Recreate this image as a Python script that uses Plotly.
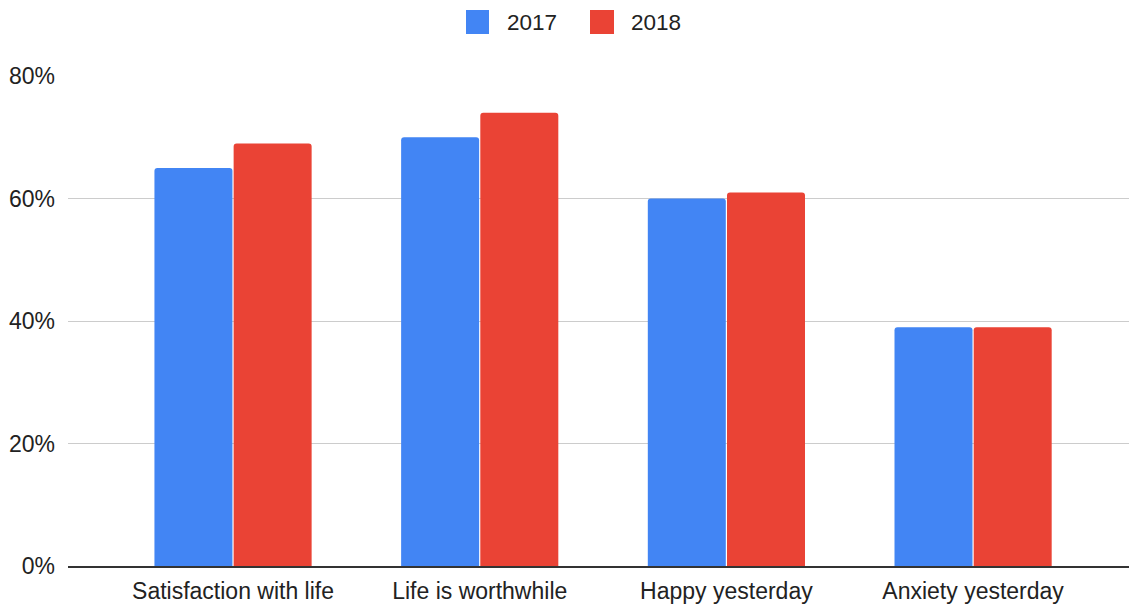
import plotly.graph_objects as go

categories = ["Satisfaction with life", "Life is worthwhile", "Happy yesterday", "Anxiety yesterday"]
values_2017 = [0.65, 0.70, 0.60, 0.39]
values_2018 = [0.69, 0.74, 0.61, 0.39]
series_names = ["2017", "2018"]
colors = ["#4285F4", "#EA4335"]
y_ticks = [0, 0.2, 0.4, 0.6, 0.8]

W, H = 1129, 604
L, R, T, B = 68, 0, 76, 38
pw, ph = W - L - R, H - T - B

def px(x):
    return (x - L) / pw

def py(y):
    return (H - B - y) / ph

FONT = "Liberation Sans, Arial, sans-serif"
TXT = "#222222"
FS = 23

fig = go.Figure()
for name, vals, col in zip(series_names, [values_2017, values_2018], colors):
    fig.add_trace(go.Bar(
        x=categories, y=vals, name=name,
        marker=dict(color=col, cornerradius=3, line=dict(width=0)),
        showlegend=False,
    ))

# custom legend (boxes + labels)
shapes = []
annotations = []
legend_boxes = [(466, 489), (590, 614)]
legend_text_x = [505, 629]
for (x0, x1), tx, name, col in zip(legend_boxes, legend_text_x, series_names, colors):
    shapes.append(dict(type="rect", xref="paper", yref="paper",
                       x0=px(x0), x1=px(x1), y0=py(34), y1=py(10),
                       fillcolor=col, line=dict(width=0)))
    annotations.append(dict(xref="paper", yref="paper", x=px(tx), y=py(22),
                            xanchor="left", yanchor="middle", showarrow=False,
                            text=name, font=dict(family=FONT, size=22.5, color=TXT)))

fig.update_layout(
    width=W, height=H,
    margin=dict(l=L, r=R, t=T, b=B, pad=0),
    paper_bgcolor="white", plot_bgcolor="white",
    barmode="group", bargap=0.358, bargroupgap=0.015,
    font=dict(family=FONT, size=FS, color=TXT),
    shapes=shapes, annotations=annotations,
    xaxis=dict(
        range=[-0.669, 3.632], showgrid=False, zeroline=False,
        showline=True, linecolor="#333333", linewidth=1.5,
        ticks="", ticklabelstandoff=4,
        tickfont=dict(family=FONT, size=FS, color=TXT),
    ),
    yaxis=dict(
        range=[0, 0.8], tickvals=y_ticks, tickformat=".0%",
        showgrid=True, gridcolor="#cccccc", gridwidth=1,
        zeroline=False, showline=False, ticks="", ticklabelstandoff=12,
        tickfont=dict(family=FONT, size=FS, color=TXT),
    ),
)

fig.write_html("out.html")
